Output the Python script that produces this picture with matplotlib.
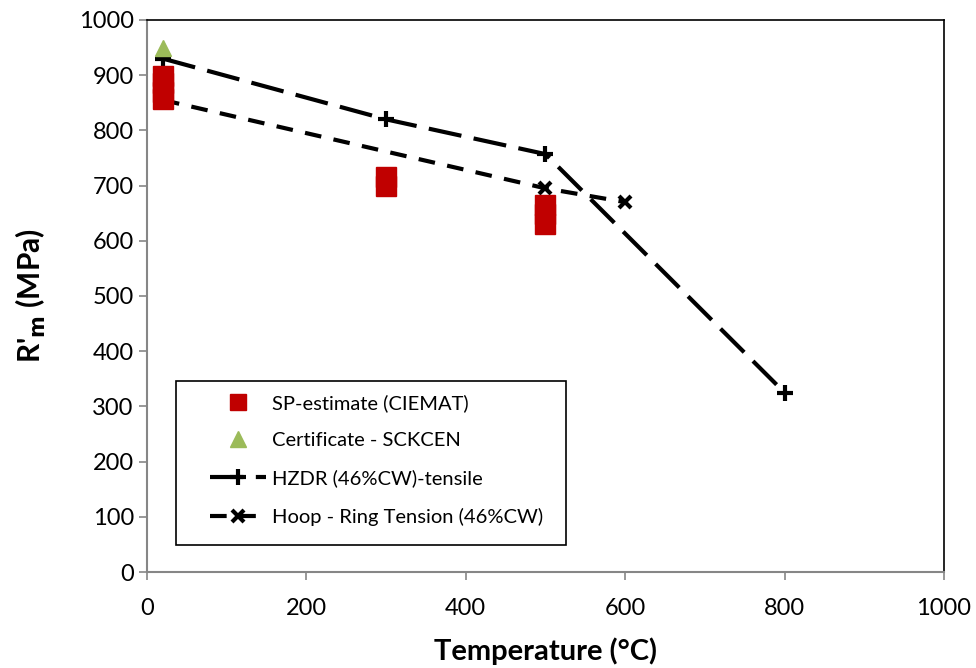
import matplotlib.pyplot as plt
from matplotlib.patches import Rectangle

plt.rcParams['font.family'] = ['Lato', 'DejaVu Sans']

# SP estimates (CIEMAT)
sp_temp = [20, 20, 20, 20, 300, 300, 500, 500, 500]
sp_rm = [898, 885, 870, 856, 715, 700, 665, 648, 630]

# Certificate value (SCKCEN)
cert_temp = [20]
cert_rm = [950]

# HZDR tensile tests
hzdr_temp = [20, 300, 500, 800]
hzdr_rm = [930, 820, 757, 325]

# Hoop ring tension tests
hoop_temp = [20, 500, 600]
hoop_rm = [855, 695, 670]

fig = plt.figure(figsize=(9.76, 6.68), dpi=100)
ax = fig.add_axes([0.1506, 0.1437, 0.8166, 0.8264])

ax.plot(sp_temp, sp_rm, linestyle='none', marker='s', markersize=14,
        color='#C00000', label='SP-estimate (CIEMAT)', zorder=5)
ax.plot(cert_temp, cert_rm, linestyle='none', marker='^', markersize=11,
        color='#9BBB59', label='Certificate - SCKCEN', zorder=5)
ax.plot(hzdr_temp, hzdr_rm, color='black', linewidth=3, dashes=(8, 3),
        marker='+', markersize=12, markeredgewidth=3,
        label='HZDR (46%CW)-tensile', zorder=4)
ax.plot(hoop_temp, hoop_rm, color='black', linewidth=3, dashes=(4, 3),
        marker='x', markersize=9, markeredgewidth=3,
        label='Hoop - Ring Tension (46%CW)', zorder=4)

ax.set_xlim(0, 1000)
ax.set_ylim(0, 1000)
ax.set_xticks(range(0, 1001, 200))
ax.set_yticks(range(0, 1001, 100))
ax.tick_params(axis='both', direction='out', length=6,
               color='#868686', width=1.2)
ax.tick_params(axis='x', pad=13)
for lbl in ax.get_xticklabels() + ax.get_yticklabels():
    lbl.set_family(['Liberation Sans Narrow', 'Lato', 'DejaVu Sans'])
    lbl.set_fontsize(17)

for side in ['left', 'bottom']:
    ax.spines[side].set_color('#868686')
    ax.spines[side].set_linewidth(1.5)
for side in ['top', 'right']:
    ax.spines[side].set_color('black')
    ax.spines[side].set_linewidth(1.2)

ax.set_xlabel('Temperature (°C)', fontsize=21, fontweight='bold', labelpad=13)
ax.set_ylabel(r"R'$_{\mathbf{m}}$ (MPa)", fontsize=21.5, fontweight='bold', labelpad=22)

# legend entries without their own frame; the box is drawn separately
leg = ax.legend(loc='upper left', bbox_to_anchor=(0.079, 0.322),
                fontsize=14.5, frameon=False, handlelength=2.8,
                borderpad=0, labelspacing=1.0, handletextpad=0.3,
                borderaxespad=0)
leg.set_zorder(7)
leg.legend_handles[0].set_markersize(12)
ax.add_patch(Rectangle((0.036, 0.049), 0.49, 0.297, transform=ax.transAxes,
                       facecolor='white', edgecolor='black', linewidth=1.2,
                       zorder=6))

fig.savefig('out.png', dpi=100)
